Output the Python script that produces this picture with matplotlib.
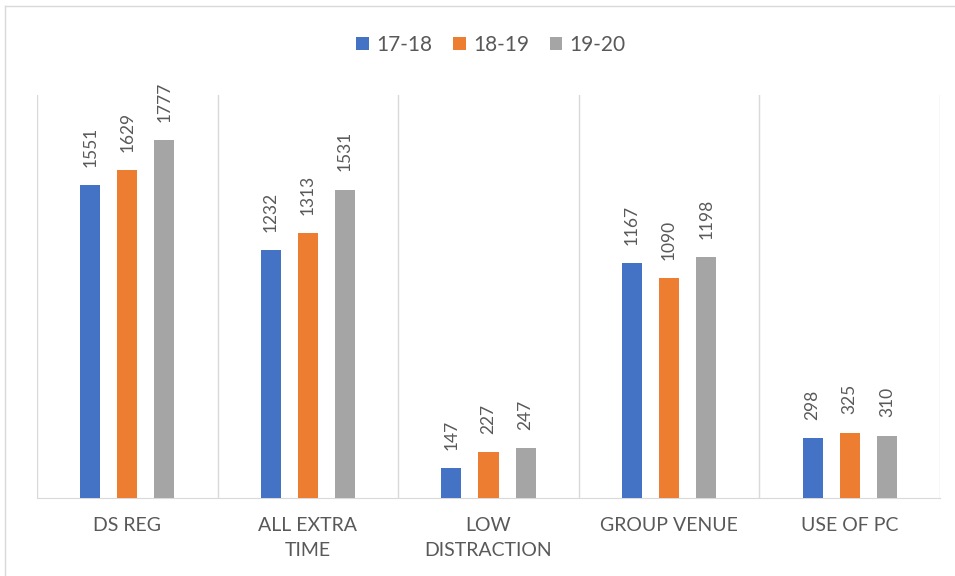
import numpy as np
import matplotlib.pyplot as plt
from matplotlib.lines import Line2D

categories = ['DS REG', 'ALL EXTRA\nTIME', 'LOW\nDISTRACTION', 'GROUP VENUE', 'USE OF PC']
series_names = ['17-18', '18-19', '19-20']
v1718 = [1551, 1232, 147, 1167, 298]
v1819 = [1629, 1313, 227, 1090, 325]
v1920 = [1777, 1531, 247, 1198, 310]
colors = ['#4472C4', '#ED7D31', '#A5A5A5']

plt.rcParams['font.family'] = ['Lato', 'DejaVu Sans']
txt = '#595959'

fig = plt.figure(figsize=(9.55, 5.76), dpi=100)
ax = fig.add_axes([37/955, 1-498/576, 903/955, 403/576])

x = np.arange(len(categories))
offs = [-0.2056, 0, 0.2056]
w = 0.111
for vals, name, c, o in zip([v1718, v1819, v1920], series_names, colors, offs):
    bars = ax.bar(x + o, vals, w, color=c, label=name, zorder=3)
    for b, v in zip(bars, vals):
        ax.annotate(str(v), (b.get_x() + b.get_width()/2, b.get_height()),
                    xytext=(0, 13), textcoords='offset points',
                    rotation=90, ha='center', va='bottom', fontsize=12.5, color=txt)

ax.set_xlim(-0.5, 4.5)
ax.set_ylim(0, 2000)
ax.set_yticks([])
ax.set_xticks(x)
ax.set_xticklabels(categories, fontsize=14, color=txt, linespacing=1.55)
ax.tick_params(axis='x', length=0, pad=14)
for xb in np.arange(-0.5, 5, 1):
    ax.axvline(xb, color='#D9D9D9', lw=1, zorder=1)
for s in ['top', 'left', 'right']:
    ax.spines[s].set_visible(False)
ax.spines['bottom'].set_color('#D9D9D9')

ax.legend(loc='center', bbox_to_anchor=(491/955, 1-45/576), bbox_transform=fig.transFigure,
          ncol=3, frameon=False, fontsize=15, labelcolor=txt,
          handlelength=0.6, handleheight=0.6, handletextpad=0.35, columnspacing=1.0)

fig.add_artist(Line2D([5/955, 5/955], [0, 1-6/576], color='#D9D9D9', lw=1))
fig.add_artist(Line2D([5/955, 1], [1-6/576, 1-6/576], color='#D9D9D9', lw=1))

fig.savefig('out.png', dpi=100)
